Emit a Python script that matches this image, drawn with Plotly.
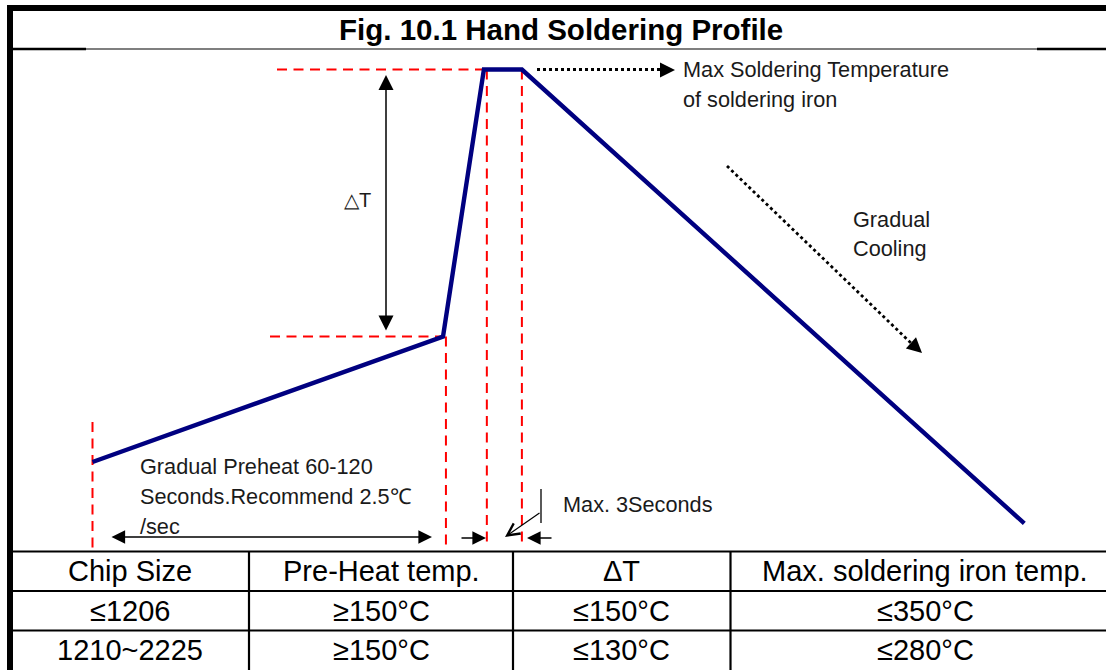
import plotly.graph_objects as go

# ---------------- data (schematic profile) ----------------
profile_time = [0, 120, 134, 147, 319]      # seconds (schematic)
profile_temp = [56, 150, 350, 350, 10]      # °C (schematic)
guide_time = [0, 121, 135, 147]             # phase boundaries (red dashed guides)
preheat_temp = 150
max_temp = 350

title_text = "Fig. 10.1 Hand Soldering Profile"
table_header = ["Chip Size", "Pre-Heat temp.", "ΔT", "Max. soldering iron temp."]
table_row1 = ["≤1206", "≥150°C", "≤150°C", "≤350°C"]
table_row2 = ["1210~2225", "≥150°C", "≤130°C", "≤280°C"]
table_rows = [table_header, table_row1, table_row2]

preheat_note = ["Gradual Preheat 60-120", "Seconds.Recommend 2.5℃", "/sec"]
max_note = ["Max Soldering Temperature", "of soldering iron"]
cool_note = ["Gradual", "Cooling"]

# ---------------- layout calibration ----------------
W, H = 1106, 670
X0_PX, K_X = 92.5, 2.921      # pixel at t=0, pixels per second
Y150_PX, K_Y = 336.5, 1.335   # pixel at 150 °C, pixels per °C


def t_of(px):
    return (px - X0_PX) / K_X


def T_of(py):
    return preheat_temp - (py - Y150_PX) / K_Y


def px(x):
    return x / W


def py(y):
    return 1 - y / H


FONT = "Liberation Sans, Arial, sans-serif"
TXT = "#1a1a1a"

fig = go.Figure()

# red dashed guide lines
gx, gy = [], []
gx += [t_of(277), profile_time[2], None]
gy += [max_temp, max_temp, None]
gx += [t_of(270), profile_time[1], None]
gy += [preheat_temp, preheat_temp, None]
bottom_T = T_of(548)
gx += [guide_time[0], guide_time[0], None]
gy += [T_of(422), bottom_T, None]
gx += [guide_time[1], guide_time[1], None]
gy += [preheat_temp, bottom_T, None]
gx += [guide_time[2], guide_time[2], None]
gy += [max_temp, bottom_T, None]
gx += [guide_time[3], guide_time[3], None]
gy += [max_temp, bottom_T, None]
fig.add_trace(go.Scatter(x=gx, y=gy, mode="lines", hoverinfo="skip",
                         line=dict(color="#ff0000", width=2, dash="10px,6.5px")))

# soldering profile
fig.add_trace(go.Scatter(x=profile_time, y=profile_temp, mode="lines", hoverinfo="skip",
                         line=dict(color="#000080", width=4.4)))

# dotted arrow shafts
dot_x = [t_of(537), t_of(662), None, t_of(727), t_of(912)]
dot_y = [max_temp, max_temp, None, T_of(166), T_of(344)]
fig.add_trace(go.Scatter(x=dot_x, y=dot_y, mode="lines", hoverinfo="skip",
                         line=dict(color="black", width=2.8, dash="dot")))

# leader line for "Max. 3Seconds"
fig.add_trace(go.Scatter(x=[t_of(541), t_of(541)], y=[T_of(489), T_of(523)], mode="lines",
                         hoverinfo="skip", line=dict(color="black", width=1.3)))

ann = []


def arrow(tip_px, tail_px, both=False, head=2, size=2.0, width=1.5):
    ann.append(dict(x=t_of(tip_px[0]), y=T_of(tip_px[1]), ax=t_of(tail_px[0]), ay=T_of(tail_px[1]),
                    xref="x", yref="y", axref="x", ayref="y", text="", showarrow=True,
                    arrowhead=head, startarrowhead=head, arrowsize=size, startarrowsize=size,
                    arrowwidth=width, arrowcolor="black",
                    arrowside="end+start" if both else "end", standoff=0, startstandoff=0))


arrow((386, 75), (386, 332), both=True, size=2.0, width=1.5)
arrow((432, 537), (110, 537), both=True, size=2.1, width=1.3)
arrow((486, 538), (460, 538), size=2.1, width=1.3)
arrow((527, 538), (553, 538), size=2.1, width=1.3)
arrow((505, 537), (541, 512), head=5, size=2.0, width=1.2)
arrow((675, 70), (660, 70), size=2.0, width=1.5)
arrow((922, 353), (910, 342), size=2.0, width=1.5)


def label(x, y, text, size=21.7, anchor="left", color=TXT, bold=False):
    ann.append(dict(x=px(x), y=py(y), xref="paper", yref="paper", text=text, showarrow=False,
                    xanchor=anchor, yanchor="middle",
                    font=dict(family=FONT, size=size, color=color,
                              weight="bold" if bold else "normal")))


label(561, 29, title_text, size=29.5, anchor="center", color="black", bold=True)
label(357, 200, "△T", size=20, anchor="center")
for i, s in enumerate(max_note):
    label(681, 70 + 30 * i, s)
for i, s in enumerate(cool_note):
    label(851, 219 + 29 * i, s)
for i, s in enumerate(preheat_note):
    label(138, 466 + 30 * i, s)
label(561, 505, "Max. 3Seconds")

col_centers = [130, 381, 621, 925]
row_centers = [571, 611, 650]
for r, row in enumerate(table_rows):
    for c, s in enumerate(row):
        label(col_centers[c], row_centers[r], s, size=29, anchor="center", color="black")

shapes = []


def rect(x0, y0, x1, y1):
    shapes.append(dict(type="rect", xref="paper", yref="paper", x0=px(x0), x1=px(x1),
                       y0=py(y0), y1=py(y1), fillcolor="black", line=dict(width=0)))


def hline(y, x0, x1, w):
    shapes.append(dict(type="line", xref="paper", yref="paper", x0=px(x0), x1=px(x1),
                       y0=py(y), y1=py(y), line=dict(color="black", width=w)))


def vline(x, y0, y1, w):
    shapes.append(dict(type="line", xref="paper", yref="paper", x0=px(x), x1=px(x),
                       y0=py(y0), y1=py(y1), line=dict(color="black", width=w)))


rect(7, 5, 1110, 11)
rect(7, 5, 13, 672)
hline(49, 13, 1106, 1.2)
hline(49, 13, 86, 2.3)
hline(49, 1037, 1106, 2.3)
for y in [551.5, 591, 630.5]:
    hline(y, 13, 1106, 2.2)
for x in [249, 513, 730.5]:
    vline(x, 551, 672, 2.2)

fig.update_layout(
    width=W, height=H, margin=dict(l=0, r=0, t=0, b=0),
    paper_bgcolor="white", plot_bgcolor="white", showlegend=False,
    xaxis=dict(range=[t_of(0), t_of(W)], visible=False, fixedrange=True),
    yaxis=dict(range=[T_of(H), T_of(0)], visible=False, fixedrange=True),
    annotations=ann, shapes=shapes,
)

fig.write_html("out.html", config={"displayModeBar": False},
               post_script="document.body.style.margin='0';document.body.style.overflow='hidden';")
